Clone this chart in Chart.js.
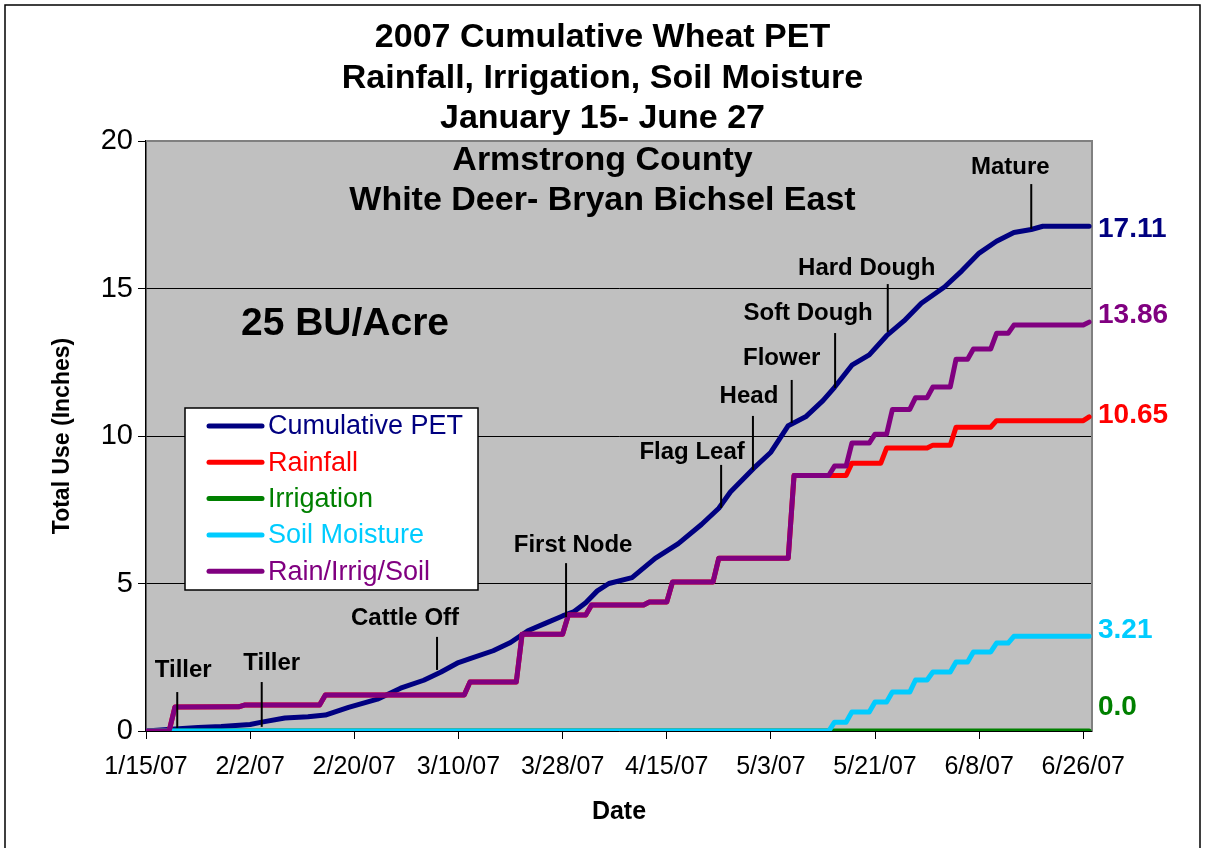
<!DOCTYPE html>
<html>
<head>
<meta charset="utf-8">
<title>2007 Cumulative Wheat PET</title>
<script src="https://cdn.jsdelivr.net/npm/chart.js@4.4.1/dist/chart.umd.min.js"></script>
<style>
  html, body { margin: 0; padding: 0; background: #fff; }
  #wrap { width: 1205px; height: 848px; }
</style>
</head>
<body>
<div id="wrap"><canvas id="pet-chart" width="1205" height="848"></canvas></div>
<script>
// day 0 = 1/15/07
var startDate = Date.UTC(2007, 0, 15);
var lastDay = 163.5;

var titleLines = ['2007 Cumulative Wheat PET', 'Rainfall, Irrigation, Soil Moisture', 'January 15- June 27'];
var siteLines = ['Armstrong County', 'White Deer- Bryan Bichsel East'];
var yieldText = '25 BU/Acre';

var seriesNames = ['Cumulative PET', 'Rainfall', 'Irrigation', 'Soil Moisture', 'Rain/Irrig/Soil'];
var seriesColors = ['#000080', '#FF0000', '#008000', '#00CCFF', '#800080'];
var endDecimals = [2, 2, 1, 2, 2];

// cumulative PET (inches)
var petDays = [0, 5, 9, 13, 18, 20, 24, 28, 31, 35, 40, 44, 48, 51, 54, 56, 60, 63, 66, 69, 72, 74, 76, 78, 80, 84, 88, 92, 96, 99, 101, 105, 108, 111, 114, 117, 119, 122, 125, 128, 131, 134, 138, 141, 144, 147, 150, 153, 155, 163];
var petVals = [0, 0.07, 0.12, 0.15, 0.22, 0.3, 0.44, 0.48, 0.54, 0.8, 1.08, 1.45, 1.72, 2.0, 2.32, 2.45, 2.72, 3.0, 3.4, 3.65, 3.9, 4.05, 4.35, 4.75, 5.0, 5.2, 5.85, 6.35, 7.0, 7.55, 8.1, 8.9, 9.45, 10.35, 10.65, 11.2, 11.65, 12.4, 12.75, 13.4, 13.9, 14.5, 15.05, 15.6, 16.2, 16.6, 16.9, 17.0, 17.11, 17.11];

// rainfall (inches)
var rainDays = [0, 4, 5, 16, 17, 30, 31, 55, 56, 64, 65, 72, 73, 76, 77, 86, 87, 90, 91, 98, 99, 111, 112, 121, 122, 127, 128, 135, 136, 139, 140, 146, 147, 162, 163];
var rainVals = [0, 0, 0.81, 0.82, 0.88, 0.88, 1.22, 1.22, 1.66, 1.66, 3.28, 3.28, 3.93, 3.93, 4.27, 4.27, 4.37, 4.37, 5.05, 5.05, 5.86, 5.86, 8.66, 8.66, 9.08, 9.08, 9.59, 9.59, 9.69, 9.69, 10.3, 10.3, 10.52, 10.52, 10.65];

// irrigation (inches)
var irrDays = [0, 163];
var irrVals = [0, 0];

// soil moisture (inches)
var soilDays = [0, 118, 119, 121, 122, 125, 126, 128, 129, 132, 133, 135, 136, 139, 140, 142, 143, 146, 147, 149, 150, 163];
var soilVals = [0, 0, 0.3, 0.3, 0.64, 0.64, 0.98, 0.98, 1.32, 1.32, 1.73, 1.73, 2.0, 2.0, 2.34, 2.34, 2.68, 2.68, 2.98, 2.98, 3.21, 3.21];

// rain + irrigation + soil (inches)
var totalDays = [0, 4, 5, 16, 17, 30, 31, 55, 56, 64, 65, 72, 73, 76, 77, 86, 87, 90, 91, 98, 99, 111, 112, 118, 119, 121, 122, 125, 126, 128, 129, 132, 133, 135, 136, 139, 140, 142, 143, 146, 147, 149, 150, 162, 163];
var totalVals = [0, 0, 0.81, 0.82, 0.88, 0.88, 1.22, 1.22, 1.66, 1.66, 3.28, 3.28, 3.93, 3.93, 4.27, 4.27, 4.37, 4.37, 5.05, 5.05, 5.86, 5.86, 8.66, 8.66, 8.98, 8.98, 9.76, 9.76, 10.06, 10.06, 10.9, 10.9, 11.3, 11.3, 11.66, 11.66, 12.6, 12.6, 12.95, 12.95, 13.48, 13.48, 13.76, 13.76, 13.86];

// growth stages: day, marker top and bottom (inches)
var stageNames = ['Tiller', 'Tiller', 'Cattle Off', 'First Node', 'Flag Leaf', 'Head', 'Flower', 'Soft Dough', 'Hard Dough', 'Mature'];
var stageDays = [5.4, 20.0, 50.3, 72.6, 99.4, 104.9, 111.6, 119.1, 128.2, 153.0];
var stageTop = [1.32, 1.66, 3.19, 5.69, 9.02, 10.68, 11.9, 13.49, 15.15, 18.54];
var stageBottom = [0.1, 0.14, 2.07, 3.86, 7.56, 8.85, 10.44, 11.63, 13.53, 17.02];

var FONT = '"Liberation Sans", Arial, sans-serif';

function toPoints(days, vals) {
    return days.map(function (d, i) { return { x: d, y: vals[i] }; });
}

function dayLabel(d) {
    var dt = new Date(startDate + Math.round(d) * 86400000);
    return (dt.getUTCMonth() + 1) + '/' + dt.getUTCDate() + '/' + String(dt.getUTCFullYear()).slice(2);
}

var seriesPoints = [
    toPoints(petDays, petVals),
    toPoints(rainDays, rainVals),
    toPoints(irrDays, irrVals),
    toPoints(soilDays, soilVals),
    toPoints(totalDays, totalVals)
];

// label shifts for stage text (px) and end-value labels (px)
var stageShift = [[6, 22], [10, 19], [-32, 19], [7, 18], [-29, 13], [-4, 20], [-10, 22], [-27, 20], [-21, 16], [-21, 17]];
var endShift = [3, -2, -24, -6, -7];

var chartDecor = {
    id: 'chartDecor',
    beforeDraw: function (chart) {
        var ctx = chart.ctx, a = chart.chartArea;
        ctx.save();
        ctx.fillStyle = '#fff';
        ctx.fillRect(0, 0, chart.width, chart.height);
        ctx.fillStyle = '#C0C0C0';
        ctx.fillRect(a.left, a.top, a.right - a.left, a.bottom - a.top);
        ctx.restore();
    },
    beforeDatasetsDraw: function (chart) {
        var ctx = chart.ctx, a = chart.chartArea;
        ctx.save();
        ctx.strokeStyle = '#808080';
        ctx.lineWidth = 2;
        ctx.beginPath();
        ctx.moveTo(a.left, a.top);
        ctx.lineTo(a.right, a.top);
        ctx.lineTo(a.right, a.bottom);
        ctx.stroke();
        ctx.restore();
    },
    afterDraw: function (chart) {
        var ctx = chart.ctx, a = chart.chartArea;
        var xs = chart.scales.x, ys = chart.scales.y;
        var cx = chart.width / 2;
        ctx.save();

        // outer frame
        ctx.strokeStyle = '#000';
        ctx.lineWidth = 1.5;
        ctx.strokeRect(5, 5, chart.width - 10, chart.height + 10);

        ctx.fillStyle = '#000';
        ctx.textAlign = 'center';
        ctx.textBaseline = 'middle';
        ctx.font = 'bold 34px ' + FONT;
        titleLines.forEach(function (t, i) { ctx.fillText(t, cx, 38 + i * 40.5); });
        siteLines.forEach(function (t, i) { ctx.fillText(t, cx, 161 + i * 40); });

        ctx.font = 'bold 39px ' + FONT;
        ctx.fillText(yieldText, 345, 324);

        // growth stage markers
        ctx.font = 'bold 24px ' + FONT;
        ctx.lineWidth = 2;
        stageNames.forEach(function (name, i) {
            var x = xs.getPixelForValue(stageDays[i]);
            var y0 = ys.getPixelForValue(stageTop[i]);
            var y1 = ys.getPixelForValue(stageBottom[i]);
            ctx.beginPath();
            ctx.moveTo(x, y0);
            ctx.lineTo(x, y1);
            ctx.stroke();
            ctx.fillText(name, x + stageShift[i][0], y0 - stageShift[i][1]);
        });

        // end-of-season values
        ctx.font = 'bold 28px ' + FONT;
        ctx.textAlign = 'left';
        chart.data.datasets.forEach(function (ds, i) {
            var last = ds.data[ds.data.length - 1];
            ctx.fillStyle = seriesColors[i];
            ctx.fillText(last.y.toFixed(endDecimals[i]), a.right + 6, ys.getPixelForValue(last.y) + endShift[i]);
        });

        // legend
        var lx = 185, ly = 408, lw = 293, lh = 182;
        ctx.fillStyle = '#fff';
        ctx.fillRect(lx, ly, lw, lh);
        ctx.strokeStyle = '#000';
        ctx.lineWidth = 1.5;
        ctx.strokeRect(lx, ly, lw, lh);
        ctx.font = '27px ' + FONT;
        ctx.lineCap = 'round';
        chart.data.datasets.forEach(function (ds, i) {
            var ry = ly + 18 + i * 36.3;
            ctx.strokeStyle = seriesColors[i];
            ctx.lineWidth = 5;
            ctx.beginPath();
            ctx.moveTo(lx + 24, ry);
            ctx.lineTo(lx + 77, ry);
            ctx.stroke();
            ctx.fillStyle = seriesColors[i];
            ctx.fillText(ds.label, lx + 83, ry + 1);
        });
        ctx.restore();
    }
};

var ctx = document.getElementById('pet-chart').getContext('2d');
var petChart = new Chart(ctx, {
    type: 'line',
    data: {
        datasets: seriesNames.map(function (name, i) {
            return {
                label: name,
                data: seriesPoints[i],
                borderColor: seriesColors[i],
                backgroundColor: seriesColors[i],
                borderWidth: 5,
                pointRadius: 0,
                fill: false,
                order: 5 - i
            };
        })
    },
    options: {
        responsive: false,
        animation: false,
        layout: { padding: { left: 10, top: 141, right: 113, bottom: 0 } },
        elements: { line: { tension: 0, borderCapStyle: 'round', borderJoinStyle: 'round' } },
        plugins: {
            legend: { display: false },
            tooltip: { enabled: false },
            title: { display: false }
        },
        scales: {
            x: {
                type: 'linear',
                min: 0,
                max: lastDay,
                afterFit: function (s) { s.height = 117; },
                border: { color: '#000', width: 1.5 },
                grid: { drawOnChartArea: false, drawTicks: true, tickLength: 8, tickColor: '#000' },
                ticks: {
                    stepSize: 18,
                    includeBounds: false,
                    autoSkip: false,
                    maxRotation: 0,
                    padding: 13,
                    color: '#000',
                    font: { family: FONT, size: 25 },
                    callback: function (v) { return dayLabel(v); }
                },
                title: {
                    display: true,
                    text: 'Date',
                    color: '#000',
                    font: { family: FONT, size: 25, weight: 'bold' },
                    padding: { top: 0, bottom: 21 }
                }
            },
            y: {
                min: 0,
                max: 20,
                afterFit: function (s) { s.width = 136; },
                border: { color: '#000', width: 1.5 },
                grid: {
                    color: function (c) { return c.tick.value === 20 ? 'rgba(0,0,0,0)' : '#000'; },
                    lineWidth: 1,
                    tickLength: 8,
                    tickColor: '#000'
                },
                ticks: {
                    stepSize: 5,
                    padding: 5,
                    color: '#000',
                    font: { family: FONT, size: 29 }
                },
                title: {
                    display: true,
                    text: 'Total Use (Inches)',
                    color: '#000',
                    font: { family: FONT, size: 23, weight: 'bold' },
                    padding: { top: 39, bottom: 0 }
                }
            }
        }
    },
    plugins: [chartDecor]
});
</script>
</body>
</html>
